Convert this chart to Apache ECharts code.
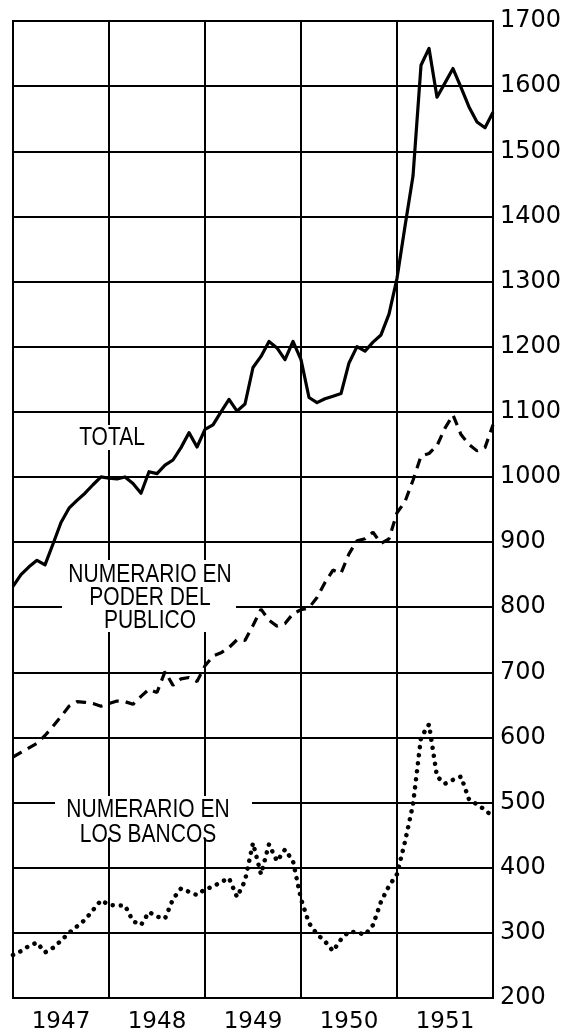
<!DOCTYPE html>
<html>
<head>
<meta charset="utf-8">
<script src="https://cdn.jsdelivr.net/npm/echarts@6/dist/echarts.min.js"></script>
<style>
html,body{margin:0;padding:0;background:#fff;}
#c{width:567px;height:1036px;}
</style>
</head>
<body>
<div id="c"></div>
<script>
// Month index from January 1947 (0) to end of 1951 (60)
var months = [0,1,2,3,4,5,6,7,8,9,10,11,12,13,14,15,16,17,18,19,20,21,22,23,24,25,26,27,28,29,30,31,32,33,34,35,36,37,38,39,40,41,42,43,44,45,46,47,48,49,50,51,52,53,54,55,56,57,58,59,60];
var years = ['1947','1948','1949','1950','1951'];
var yTicks = [200,300,400,500,600,700,800,900,1000,1100,1200,1300,1400,1500,1600,1700];

var total = [832,850,862,872,865,897,930,952,964,975,988,1000,998,997,1000,990,975,1008,1005,1018,1026,1045,1068,1046,1073,1080,1100,1119,1101,1112,1168,1185,1208,1198,1180,1208,1180,1122,1114,1120,1124,1128,1175,1200,1193,1207,1218,1250,1305,1385,1462,1632,1658,1583,1605,1627,1598,1568,1545,1536,1560];
var publico = [570,577,584,591,603,617,632,648,655,654,652,648,652,656,655,651,663,674,669,701,680,690,692,686,710,725,730,738,750,749,772,797,780,771,775,790,796,799,815,838,857,852,882,902,905,915,898,905,945,962,995,1032,1036,1048,1075,1095,1065,1050,1040,1045,1080];
var bancos = [266,272,280,285,270,277,288,300,310,320,335,350,343,342,342,318,312,332,325,322,352,368,363,358,367,371,378,384,355,380,438,390,436,410,428,410,352,315,298,287,272,290,302,301,297,312,348,372,390,440,497,600,620,540,529,535,540,505,497,489,478];

var labelTotal = ['TOTAL'];
var labelPublico = ['NUMERARIO EN','PODER DEL','PUBLICO'];
var labelBancos = ['NUMERARIO EN','LOS BANCOS'];

function pairs(vals){ return months.map(function(m,i){ return [m, vals[i]]; }); }

var txtFont = '21px "Liberation Sans", Arial, sans-serif';
function labelBlock(lines, box, cx, y0, lh){
  var out = [{type:'rect',z:100,shape:{x:box[0],y:box[1],width:box[2],height:box[3]},style:{fill:'#fff'},silent:true}];
  lines.forEach(function(t,i){
    out.push({type:'text',z:101,x:cx,y:y0+i*lh,scaleY:1.22,originX:0,originY:0,
      style:{text:t,x:0,y:0,font:txtFont,fill:'#000',textAlign:'center',textVerticalAlign:'middle'}});
  });
  return out;
}

var chart = echarts.init(document.getElementById('c'), null, {renderer:'canvas'});
chart.setOption({
  animation:false,
  backgroundColor:'#fff',
  grid:{left:13,right:74,top:21,bottom:38,show:true,borderColor:'#000',borderWidth:2,backgroundColor:'transparent'},
  xAxis:[{
    type:'value',min:0,max:60,interval:12,
    axisLabel:{show:false},axisTick:{show:false},
    axisLine:{show:false},
    splitLine:{show:true,lineStyle:{color:'#000',width:2}}
  },{
    type:'category',data:years,position:'bottom',boundaryGap:true,
    axisLine:{show:false},axisTick:{show:false},splitLine:{show:false},
    axisLabel:{color:'#000',fontSize:23,fontFamily:'DejaVu Sans',margin:13}
  }],
  yAxis:{
    type:'value',position:'right',min:200,max:1700,interval:100,
    axisLine:{show:false},axisTick:{show:false},
    axisLabel:{color:'#000',fontSize:24,fontFamily:'DejaVu Sans',margin:7,formatter:function(v){return String(v);}},
    splitLine:{show:true,lineStyle:{color:'#000',width:2}}
  },
  series:[
    {name:'TOTAL',type:'line',data:pairs(total),symbol:'none',xAxisIndex:0,
      lineStyle:{color:'#000',width:3.2,join:'round'}},
    {name:'NUMERARIO EN PODER DEL PUBLICO',type:'line',data:pairs(publico),symbol:'none',xAxisIndex:0,
      lineStyle:{color:'#000',width:3.2,type:[10,7]}},
    {name:'NUMERARIO EN LOS BANCOS',type:'line',data:pairs(bancos),symbol:'none',xAxisIndex:0,
      lineStyle:{color:'#000',width:4.5,type:[0.1,8],cap:'round'}}
  ],
  graphic:[].concat(
    labelBlock(labelTotal,[74,425,76,25],112,438,0),
    labelBlock(labelPublico,[62,560,174,72],150,575,23),
    labelBlock(labelBancos,[55,796,197,42],148,810,25)
  )
});
</script>
</body>
</html>
